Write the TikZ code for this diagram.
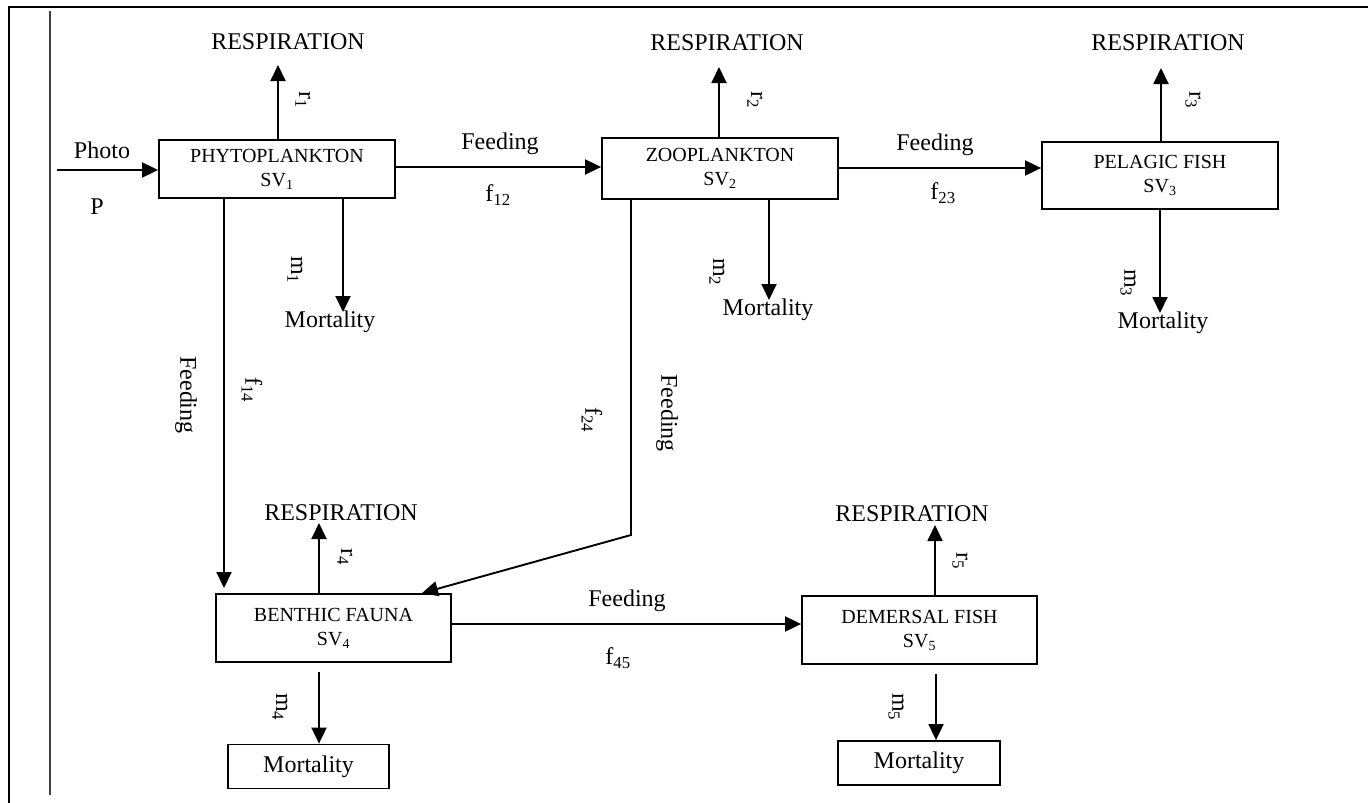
\documentclass[tikz,border=0pt]{standalone}
\usepackage{fontspec}
\setmainfont{Liberation Serif}
\usetikzlibrary{arrows.meta}
\begin{document}
\begin{tikzpicture}[x=1pt,y=-1pt,
  lbl/.style={inner sep=0pt,font=\fontsize{24}{28}\selectfont},
  rlbl/.style={lbl,rotate=-90},
  svbox/.style={draw,line width=1.8pt,minimum width=236pt,align=center,inner sep=0pt,font=\fontsize{20}{24}\selectfont},
  mbox/.style={draw,line width=1.8pt,minimum width=161pt,minimum height=44pt,inner sep=0pt,font=\fontsize{24}{28}\selectfont},
  arr/.style={line width=1.9pt,-{Triangle[length=16pt,width=15pt]}}]
\useasboundingbox (0,0) rectangle (1368,803);
% frame
\draw[line width=2pt] (9,803) -- (9,7) -- (1368,7);
\draw[line width=2.6pt,black!75] (50,11) -- (50,795);
% boxes
\node[svbox,minimum height=58pt] (b1) at (277,169) {PHYTOPLANKTON\\SV\textsubscript{1}};
\node[svbox,minimum height=61pt] (b2) at (720,168.5) {ZOOPLANKTON\\SV\textsubscript{2}};
\node[svbox,minimum height=67pt] (b3) at (1160,175.5) {PELAGIC FISH\\SV\textsubscript{3}};
\node[svbox,minimum width=235pt,minimum height=68pt] (b4) at (333.5,628) {BENTHIC FAUNA\\SV\textsubscript{4}};
\node[svbox,minimum width=235pt,minimum height=68pt] (b5) at (919.5,630) {DEMERSAL FISH\\SV\textsubscript{5}};
\node[mbox] (mort4) at (308.5,766.5) {Mortality};
\node[mbox,minimum width=162pt] (mort5) at (919,763) {Mortality};
% text labels
\node[lbl] (photo) at (102,150) {Photo};
\node[lbl] (p) at (97,207) {P};
\node[lbl] (resp1) at (288,42) {RESPIRATION};
\node[lbl] (resp2) at (727,43) {RESPIRATION};
\node[lbl] (resp3) at (1168,43) {RESPIRATION};
\node[lbl] (resp4) at (341,513) {RESPIRATION};
\node[lbl] (resp5) at (912,514) {RESPIRATION};
\node[rlbl] (r1) at (303,100) {r\textsubscript{1}};
\node[rlbl] (r2) at (755,100) {r\textsubscript{2}};
\node[rlbl] (r3) at (1193,100) {r\textsubscript{3}};
\node[rlbl] (r4) at (345,557) {r\textsubscript{4}};
\node[rlbl] (r5) at (960,561) {r\textsubscript{5}};
\node[rlbl] (m1) at (295,270) {m\textsubscript{1}};
\node[rlbl] (m2) at (717,272) {m\textsubscript{2}};
\node[rlbl] (m3) at (1128,283) {m\textsubscript{3}};
\node[rlbl] (m4) at (280,707) {m\textsubscript{4}};
\node[rlbl] (m5) at (896,707) {m\textsubscript{5}};
\node[lbl] (mort1) at (330,322) {Mortality};
\node[lbl] (mort2) at (768,310) {Mortality};
\node[lbl] (mort3) at (1163,323) {Mortality};
\node[lbl] (feed12) at (500,144) {Feeding};
\node[lbl] (f12) at (498,195) {f\textsubscript{12}};
\node[lbl] (feed23) at (935,145) {Feeding};
\node[lbl] (f23) at (943,193) {f\textsubscript{23}};
\node[lbl] (feed45) at (627,601) {Feeding};
\node[lbl] (f45) at (618,658) {f\textsubscript{45}};
\node[rlbl] (feed14) at (186,395) {Feeding};
\node[rlbl] (f14) at (252,390) {f\textsubscript{14}};
\node[rlbl] (f24) at (592,420) {f\textsubscript{24}};
\node[rlbl] (feed24) at (667,413) {Feeding};
% coordinates
\coordinate (ps) at (57,170);
\coordinate (r1t) at (278,65);
\coordinate (r2t) at (719,67);
\coordinate (r3t) at (1161,68);
\coordinate (r4t) at (319,523);
\coordinate (r5t) at (935,525);
\coordinate (m1t) at (343,312);
\coordinate (m2t) at (769,300);
\coordinate (m3t) at (1160,313);
\coordinate (m4s) at (319,672);
\coordinate (m5s) at (936,674);
\coordinate (y12) at (0,167);
\coordinate (y23) at (0,168);
\coordinate (y45) at (0,624);
\coordinate (t14) at (224,588);
\coordinate (c24) at (631,535);
\coordinate (t24) at (422,0);
% connectors
\draw[arr] (ps) -- (b1.west |- ps);
\draw[arr] (b1.north -| r1t) -- (r1t);
\draw[arr] (b2.north -| r2t) -- (r2t);
\draw[arr] (b3.north -| r3t) -- (r3t);
\draw[arr] (b4.north -| r4t) -- (r4t);
\draw[arr] (b5.north -| r5t) -- (r5t);
\draw[arr] (b1.south -| m1t) -- (m1t);
\draw[arr] (b2.south -| m2t) -- (m2t);
\draw[arr] (b3.south -| m3t) -- (m3t);
\draw[arr] (m4s) -- (mort4.north -| m4s);
\draw[arr] (m5s) -- (mort5.north -| m5s);
\draw[arr] (b1.east |- y12) -- (b2.west |- y12);
\draw[arr] (b2.east |- y23) -- (b3.west |- y23);
\draw[arr] (b4.east |- y45) -- (b5.west |- y45);
\draw[arr] (b1.south -| t14) -- (t14);
\draw[arr] (b2.south -| c24) -- (c24) -- (b4.north -| t24);
\end{tikzpicture}
\end{document}
